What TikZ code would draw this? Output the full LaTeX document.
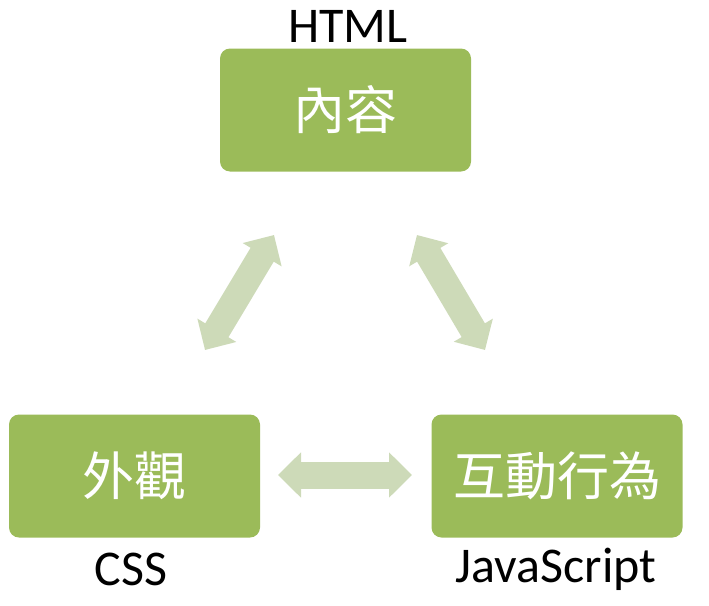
\documentclass[tikz,border=0pt]{standalone}
\usepackage{fontspec}
\setmainfont{Carlito}
\newfontfamily\cjk{Noto Sans CJK TC}
\usetikzlibrary{arrows.meta}
\definecolor{boxgreen}{RGB}{155,187,89}
\definecolor{linkgreen}{RGB}{205,218,184}
\tikzset{
  part/.style={fill=boxgreen, rounded corners=10pt, minimum width=251pt,
    minimum height=123pt, text=white, font=\cjk\fontsize{52}{56}\selectfont},
  tag/.style={anchor=base, font=\fontsize{50}{55}\selectfont},
  link/.style={linkgreen, line width=27pt,
    {Triangle[width=44pt,length=23pt]}-{Triangle[width=44pt,length=23pt]}}
}
\begin{document}
\begin{tikzpicture}[x=1pt, y=-1pt]
    \useasboundingbox (0,0) rectangle (709,605);

    % three parts
    \node[part] (content) at (345.5,110) {內容};
    \node[part] (look) at (134.5,476) {外觀};
    \node[part] (action) at (557,476) {互動行為};

    % languages
    \node[tag] (html) at (348,42) {HTML};
    \node[tag] (css) at (131,585) {CSS};
    \node[tag] (js) at (556,582) {JavaScript};

    % arrow ends
    \coordinate (l1) at (205,350);
    \coordinate (l2) at (274,235);
    \coordinate (r1) at (417,235);
    \coordinate (r2) at (485,350);
    \coordinate (m1) at (278,475);
    \coordinate (m2) at (412,475);

    \draw[link] (l1) -- (l2);
    \draw[link] (r1) -- (r2);
    \draw[link] (m1) -- (m2);
\end{tikzpicture}
\end{document}
